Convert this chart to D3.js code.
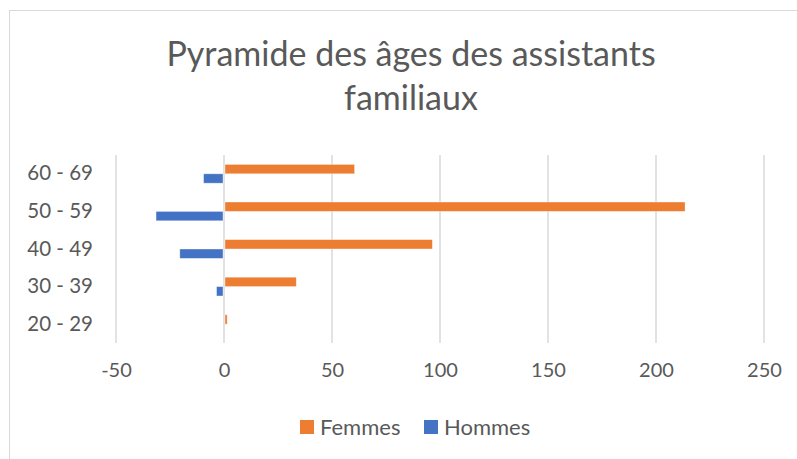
<!DOCTYPE html>
<html>
<head>
<meta charset="utf-8">
<script src="https://cdn.jsdelivr.net/npm/d3@7"></script>
<style>
  body { margin: 0; background: #fff; }
  svg { display: block; font-family: Lato, "Noto Sans", sans-serif; }
</style>
</head>
<body>
<div id="container"></div>
<script>
  const width = 797;
  const height = 459;

  // data (Hommes drawn as negative values)
  const ageGroups = ['20 - 29', '30 - 39', '40 - 49', '50 - 59', '60 - 69'];
  const femmes = [1, 33, 96, 213, 60];
  const hommes = [0, -3, -20, -31, -9];
  const seriesNames = ['Femmes', 'Hommes'];
  const seriesColors = ['#ED7D31', '#4472C4'];
  const xTicks = [-50, 0, 50, 100, 150, 200, 250];

  const textColor = '#595959';
  const gridColor = '#d9d9d9';

  const svg = d3.create('svg')
    .attr('width', width)
    .attr('height', height);

  // chart frame (cut off on right and bottom like the reference)
  svg.append('rect')
    .attr('x', 9.5).attr('y', 10.5)
    .attr('width', width + 20).attr('height', height + 20)
    .attr('fill', '#fff')
    .attr('stroke', gridColor)
    .attr('stroke-width', 1);

  // title
  const title = svg.append('text')
    .attr('text-anchor', 'middle')
    .attr('fill', textColor)
    .style('font-size', '34px');
  title.append('tspan').attr('x', 411).attr('y', 66).text('Pyramide des âges des assistants');
  title.append('tspan').attr('x', 411).attr('y', 110).text('familiaux');

  const x = d3.scaleLinear()
    .domain([-50, 250])
    .range([116, 764]);

  // top category first, as in Excel bar charts
  const y = d3.scaleBand()
    .domain(ageGroups.slice().reverse())
    .range([155, 343])
    .paddingInner(0.5)
    .paddingOuter(0.25);

  const ySub = d3.scaleBand()
    .domain(seriesNames)
    .range([0, y.bandwidth()]);

  // vertical gridlines
  svg.append('g')
    .selectAll('line')
    .data(xTicks)
    .join('line')
    .attr('x1', d => x(d)).attr('x2', d => x(d))
    .attr('y1', 155).attr('y2', 343)
    .attr('stroke', gridColor)
    .attr('stroke-width', 1.5);

  // x tick labels (plain hyphen for negatives)
  const xAxis = svg.append('g')
    .attr('transform', 'translate(0,343)')
    .call(d3.axisBottom(x).tickValues(xTicks).tickSize(0).tickPadding(20).tickFormat(d => String(d)));
  xAxis.select('.domain').remove();
  xAxis.selectAll('text')
    .attr('fill', textColor)
    .style('font-size', '20px')
    .style('font-family', 'Lato, "Noto Sans", sans-serif');

  // category labels
  const yAxis = svg.append('g')
    .attr('transform', 'translate(116,0)')
    .call(d3.axisLeft(y).tickSize(0).tickPadding(23));
  yAxis.select('.domain').remove();
  yAxis.selectAll('text')
    .attr('fill', textColor)
    .style('font-size', '20.5px')
    .style('font-family', 'Lato, "Noto Sans", sans-serif');

  // bars
  const rows = ageGroups.map((g, i) => ({ group: g, values: [femmes[i], hommes[i]] }));
  const groups = svg.append('g')
    .selectAll('g')
    .data(rows)
    .join('g')
    .attr('transform', d => `translate(0,${y(d.group)})`);

  groups.selectAll('rect')
    .data(d => d.values.map((v, j) => ({ name: seriesNames[j], value: v, color: seriesColors[j] })))
    .join('rect')
    .attr('x', d => Math.min(x(0), x(d.value)) + (d.value > 0 ? 1 : -1))
    .attr('y', d => ySub(d.name))
    .attr('width', d => Math.abs(x(d.value) - x(0)))
    .attr('height', ySub.bandwidth())
    .attr('fill', d => d.color)
    .attr('stroke', '#fff')
    .attr('stroke-opacity', 0.5)
    .attr('stroke-width', 0.75);

  // legend
  const legendX = [300, 424];
  const legend = svg.append('g')
    .selectAll('g')
    .data(seriesNames)
    .join('g')
    .attr('transform', (d, i) => `translate(${legendX[i]},420)`);
  legend.append('rect')
    .attr('width', 14).attr('height', 14)
    .attr('fill', (d, i) => seriesColors[i]);
  legend.append('text')
    .attr('x', 20).attr('y', 14.5)
    .attr('fill', textColor)
    .style('font-size', '22px')
    .text(d => d);

  container.appendChild(svg.node());
</script>
</body>
</html>
